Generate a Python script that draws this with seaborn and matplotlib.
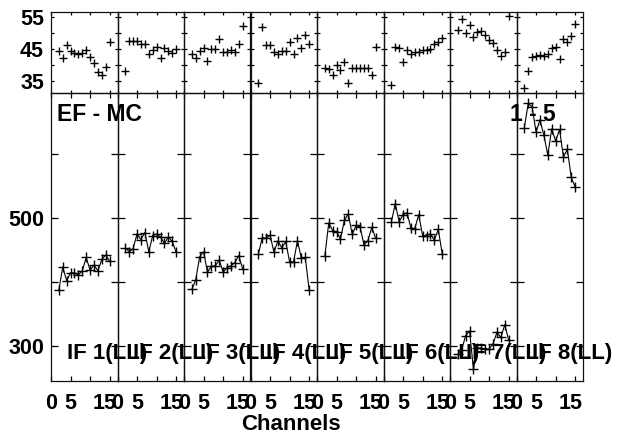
import matplotlib
matplotlib.use("Agg")
import matplotlib.pyplot as plt
import matplotlib.ticker as ticker
import matplotlib.transforms as mtransforms
import seaborn as sns

# channel numbers shared by every IF
channels = list(range(2, 16))

# top strips (small scatter of + marks)
top_if1 = [44.5, 42.1, 46.2, 44.5, 43.9, 43.6, 43.9, 44.7, 42.4, 40.5, 37.9, 36.9, 39.5, 47.1]
top_if2 = [38.1, 47.5, 47.5, 47.5, 46.5, 46.5, 43.6, 44.7, 45.7, 42.1, 45.4, 44.4, 43.9, 44.9]
top_if3 = [43.6, 42.1, 44.5, 45.2, 41.2, 45.0, 45.0, 48.0, 44.2, 44.0, 44.7, 44.0, 46.5, 52.2]
top_if4 = [34.3, 52.0, 46.2, 46.2, 44.2, 43.6, 44.4, 44.5, 47.3, 43.6, 48.6, 45.4, 49.4, 46.6]
top_if5 = [39.0, 38.7, 36.9, 40.0, 38.4, 41.0, 34.5, 39.0, 39.0, 39.2, 39.0, 39.2, 36.9, 45.7]
top_if6 = [33.7, 45.7, 45.4, 41.0, 44.7, 43.6, 44.0, 44.2, 44.7, 44.7, 44.9, 46.5, 47.2, 48.6]
top_if7 = [51.1, 54.3, 49.9, 52.5, 48.9, 50.2, 50.7, 49.4, 47.8, 46.8, 44.7, 42.8, 44.2, 55.3]
top_if8 = [32.7, 38.1, 42.4, 42.8, 43.1, 42.8, 43.6, 45.2, 45.7, 41.8, 48.3, 47.3, 49.1, 53.0]

# main panels (EF - MC), line with + marks
low_if1 = [387, 423, 402, 414, 414, 411, 417, 438, 418, 426, 417, 435, 442, 432]
low_if2 = [453, 447, 452, 475, 466, 477, 447, 472, 475, 470, 460, 470, 463, 446]
low_if3 = [388, 403, 439, 447, 415, 424, 425, 434, 415, 422, 425, 430, 441, 420]
low_if4 = [443, 469, 468, 473, 446, 464, 453, 463, 431, 431, 464, 437, 438, 387]
low_if5 = [440, 492, 480, 478, 467, 496, 506, 474, 488, 486, 458, 464, 485, 468]
low_if6 = [493, 522, 494, 505, 508, 484, 483, 505, 472, 472, 475, 465, 482, 444]
low_if7 = [287, 294, 316, 323, 263, 297, 296, 295, 295, 303, 321, 313, 333, 309]
low_if8 = [641, 679, 673, 634, 653, 629, 598, 639, 620, 638, 595, 607, 563, 548]

top_vals = [top_if1, top_if2, top_if3, top_if4, top_if5, top_if6, top_if7, top_if8]
low_vals = [low_if1, low_if2, low_if3, low_if4, low_if5, low_if6, low_if7, low_if8]
if_names = ["IF 1(LL)", "IF 2(LL)", "IF 3(LL)", "IF 4(LL)",
            "IF 5(LL)", "IF 6(LL)", "IF 7(LL)", "IF 8(LL)"]

sns.set_theme(style="ticks")
plt.rcParams["font.family"] = ["Liberation Sans", "DejaVu Sans"]
plt.rcParams["font.weight"] = "bold"
plt.rcParams["axes.linewidth"] = 0.9
plt.rcParams["axes.edgecolor"] = "#111111"
plt.rcParams["text.color"] = "black"
plt.rcParams["xtick.color"] = "black"
plt.rcParams["ytick.color"] = "black"
plt.rcParams["axes.labelcolor"] = "black"

W, H = 620, 434
fig = plt.figure(figsize=(W / 100, H / 100), dpi=100)
x0, pw = 51, 66.5
shift_left = mtransforms.ScaledTranslation(-5 / 100, 0, fig.dpi_scale_trans)

for i in range(8):
    left = (x0 + i * pw) / W
    ax_t = fig.add_axes([left, 1 - 93 / H, pw / W, 81 / H])
    ax_b = fig.add_axes([left, 1 - 381 / H, pw / W, 288 / H])
    for ax in (ax_t, ax_b):
        ax.patch.set_alpha(0)

    sns.scatterplot(x=channels, y=top_vals[i], ax=ax_t, marker="+", color="black",
                    s=26, linewidth=1.0)
    sns.lineplot(x=channels, y=low_vals[i], ax=ax_b, color="black", linewidth=0.8,
                 estimator=None, marker="+", markersize=6.5, markeredgewidth=1.0,
                 markeredgecolor="black")

    ax_t.set_xlim(0, 17)
    ax_b.set_xlim(0, 17)
    ax_t.set_ylim(31.25, 56.6)
    ax_b.set_ylim(245, 695)

    ax_t.xaxis.set_major_locator(ticker.FixedLocator([0, 5, 10, 15]))
    ax_b.xaxis.set_major_locator(ticker.FixedLocator([0, 5, 10, 15]))
    ax_b.xaxis.set_major_formatter(ticker.FixedFormatter(["0", "5", "", "15"]))
    ax_t.yaxis.set_major_locator(ticker.FixedLocator([35, 40, 45, 50, 55]))
    ax_t.yaxis.set_major_formatter(ticker.FixedFormatter(["35", "", "45", "", "55"]))
    ax_b.yaxis.set_major_locator(ticker.FixedLocator([300, 400, 500, 600]))
    ax_b.yaxis.set_major_formatter(ticker.FixedFormatter(["300", "", "500", ""]))

    ax_t.tick_params(axis="x", direction="in", top=True, bottom=True, length=2.4, width=0.9,
                     labelbottom=False)
    ax_t.tick_params(axis="y", direction="in", left=True, right=True, length=2.0, width=0.9,
                     labelleft=(i == 0), labelsize=15.5, pad=5)
    ax_b.tick_params(axis="x", direction="in", top=True, bottom=True, length=3.6, width=0.9,
                     labelsize=15.5, pad=8.5)
    ax_b.tick_params(axis="y", direction="in", left=True, right=True, length=4.7, width=0.9,
                     labelleft=(i == 0), labelsize=15.5, pad=5)
    ax_t.set_xlabel("")
    ax_t.set_ylabel("")
    ax_b.set_xlabel("")
    ax_b.set_ylabel("")

    # the "15" label sits a little left of its tick in the original
    lab15 = ax_b.xaxis.get_major_ticks()[3].label1
    lab15.set_transform(lab15.get_transform() + shift_left)

    ax_b.text(4.0, 279, if_names[i], fontsize=16, fontweight="bold", ha="left",
              va="baseline", clip_on=False, zorder=5)

    if i == 0:
        ax_b.text(1.5, 652, "EF - MC", fontsize=16.5, fontweight="bold", ha="left",
                  va="baseline", clip_on=False)
    if i == 7:
        ax_b.text(-1.7, 652, "1 - 5", fontsize=16.5, fontweight="bold", ha="left",
                  va="baseline", clip_on=False)

fig.text(291 / W, 1 - 430 / H, "Channels", fontsize=16, fontweight="bold",
         ha="center", va="baseline")

fig.savefig("out.png", dpi=100)
